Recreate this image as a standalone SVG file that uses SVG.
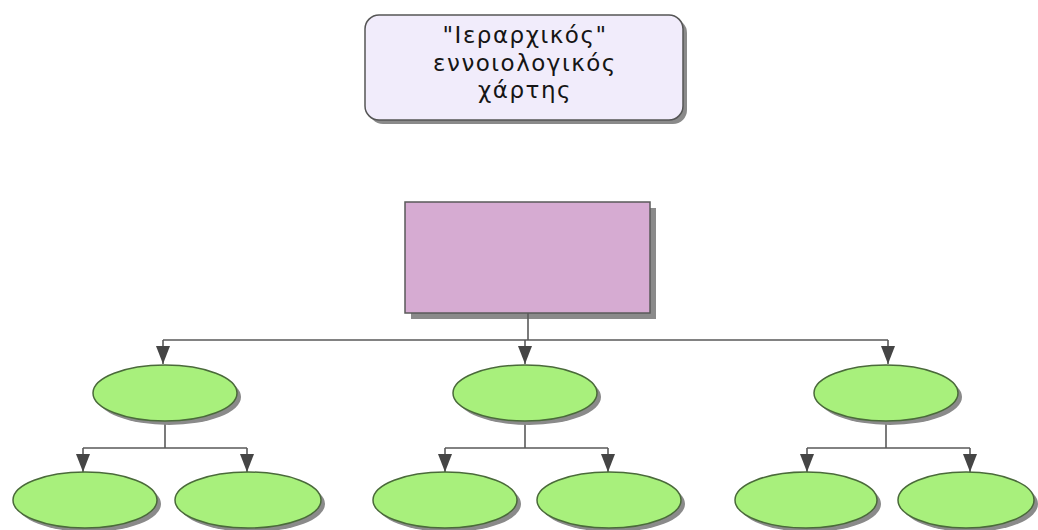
<svg xmlns="http://www.w3.org/2000/svg" width="1038" height="530" viewBox="0 0 1038 530">
<style>
.sh{fill:#8a8a8a;}
.ell{fill:#a8f07c;stroke:#4a6a3a;stroke-width:1.5;}
.rect{fill:#d6abd2;stroke:#5a5a5a;stroke-width:1.5;}
.title{fill:#f1ecfb;stroke:#555;stroke-width:1.5;}
.ln{fill:none;stroke:#5a5a5a;stroke-width:1.6;}
.t{font-family:"DejaVu Sans","Liberation Sans",sans-serif;font-size:23px;letter-spacing:1.5px;fill:#151515;text-anchor:middle;}
</style>
<defs>
<marker id="ah" viewBox="0 0 18 14" refX="18" refY="7" markerWidth="18" markerHeight="14" markerUnits="userSpaceOnUse" orient="auto">
<path d="M0,0 L18,7 L0,14 Z" fill="#454545"/>
</marker>
</defs>
<rect width="1038" height="530" fill="#fff"/>
<g id="title">
<rect class="sh" x="369" y="19" width="318" height="105" rx="14"/>
<rect class="title" x="365" y="15" width="318" height="105" rx="14"/>
<text class="t" x="525" y="43">"Ιεραρχικός"</text>
<text class="t" x="525" y="71">εννοιολογικός</text>
<text class="t" x="525" y="98">χάρτης</text>
</g>
<g id="root">
<rect class="sh" x="411" y="208" width="245" height="111"/>
<rect class="rect" x="405" y="202" width="245" height="111"/>
</g>
<g id="connectors">
<path class="ln" d="M528,313 V340 M163,340 H888"/>
<path class="ln" d="M163,340 V364" marker-end="url(#ah)"/>
<path class="ln" d="M525,340 V364" marker-end="url(#ah)"/>
<path class="ln" d="M888,340 V364" marker-end="url(#ah)"/>
<path class="ln" d="M165,421 V448 M83,448 H247 M525,421 V448 M445,448 H608 M886,421 V448 M807,448 H970"/>
<path class="ln" d="M83,448 V472" marker-end="url(#ah)"/>
<path class="ln" d="M247,448 V472" marker-end="url(#ah)"/>
<path class="ln" d="M445,448 V472" marker-end="url(#ah)"/>
<path class="ln" d="M608,448 V472" marker-end="url(#ah)"/>
<path class="ln" d="M807,448 V472" marker-end="url(#ah)"/>
<path class="ln" d="M970,448 V472" marker-end="url(#ah)"/>
</g>
<g id="n1"><ellipse class="sh" cx="169" cy="397" rx="72" ry="28"/><ellipse class="ell" cx="165" cy="393" rx="72" ry="28"/></g>
<g id="n2"><ellipse class="sh" cx="529" cy="397" rx="72" ry="28"/><ellipse class="ell" cx="525" cy="393" rx="72" ry="28"/></g>
<g id="n3"><ellipse class="sh" cx="890" cy="397" rx="72" ry="28"/><ellipse class="ell" cx="886" cy="393" rx="72" ry="28"/></g>
<g id="n11"><ellipse class="sh" cx="89" cy="504" rx="72" ry="28"/><ellipse class="ell" cx="85" cy="500" rx="72" ry="28"/></g>
<g id="n12"><ellipse class="sh" cx="252" cy="504" rx="73" ry="28"/><ellipse class="ell" cx="248" cy="500" rx="73" ry="28"/></g>
<g id="n21"><ellipse class="sh" cx="449" cy="504" rx="72" ry="28"/><ellipse class="ell" cx="445" cy="500" rx="72" ry="28"/></g>
<g id="n22"><ellipse class="sh" cx="613" cy="504" rx="72" ry="28"/><ellipse class="ell" cx="609" cy="500" rx="72" ry="28"/></g>
<g id="n31"><ellipse class="sh" cx="810" cy="504" rx="71" ry="28"/><ellipse class="ell" cx="806" cy="500" rx="71" ry="28"/></g>
<g id="n32"><ellipse class="sh" cx="970" cy="504" rx="68" ry="28"/><ellipse class="ell" cx="966" cy="500" rx="68" ry="28"/></g>
</svg>
